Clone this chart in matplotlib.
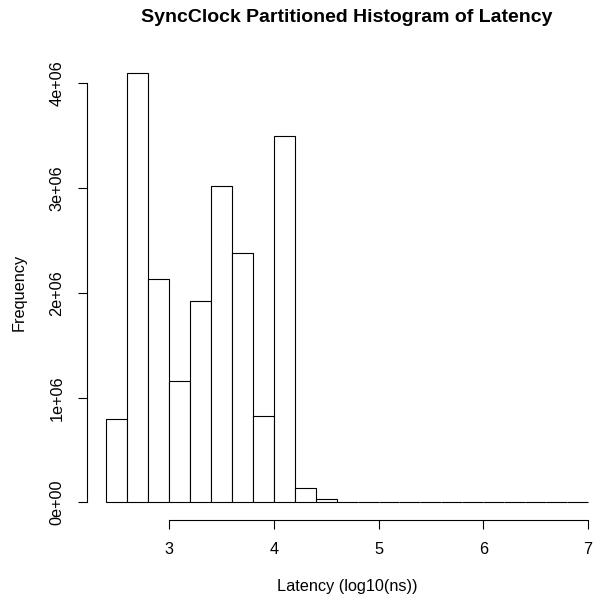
import numpy as np
import matplotlib.pyplot as plt

plt.rcParams['font.family'] = ['Liberation Sans', 'DejaVu Sans']

# histogram bins (log10 ns) and counts
bin_edges = np.round(np.arange(2.4, 7.0 + 1e-9, 0.2), 1)
counts = [800000, 4100000, 2130000, 1160000, 1920000, 3020000, 2380000,
          830000, 3500000, 140000, 30000, 6000, 1500, 500, 200, 100,
          50, 20, 10, 5, 2, 1, 1]
y_ticks = [0, 1e6, 2e6, 3e6, 4e6]
y_tick_labels = ['0e+00', '1e+06', '2e+06', '3e+06', '4e+06']
x_ticks = [3, 4, 5, 6, 7]

W, H = 595, 602
fig = plt.figure(figsize=(W / 100, H / 100), dpi=100)

# plot region in pixels (R-style)
left_px, bottom_px, top_px = 86.7, 520, 55
ax = fig.add_axes([left_px / W, (H - bottom_px) / H, (W - left_px) / W, (bottom_px - top_px) / H])

ax.bar(bin_edges[:-1], counts, width=0.2, align='edge', color='white',
       edgecolor='black', linewidth=0.8)

ax.set_xlim(2.214, 7.067)
ax.set_ylim(-0.167e6, 4.27e6)

for s in ['top', 'right']:
    ax.spines[s].set_visible(False)
ax.spines['left'].set_bounds(0, 4e6)
ax.spines['bottom'].set_bounds(3, 7)
for s in ['left', 'bottom']:
    ax.spines[s].set_linewidth(0.8)

ax.set_xticks(x_ticks)
ax.set_xticklabels([str(t) for t in x_ticks])
ax.set_yticks(y_ticks)
ax.set_yticklabels(y_tick_labels, rotation=90, va='center')
ax.tick_params(direction='out', length=6.5, width=0.8, labelsize=11.7, pad=9.4)

fig.text(347 / W, 1 - 18 / H, 'SyncClock Partitioned Histogram of Latency',
         ha='center', va='center', fontsize=14, fontweight='bold')
fig.text(347 / W, 1 - 586 / H, 'Latency (log10(ns))', ha='center', va='center', fontsize=11.7)
fig.text(19 / W, 1 - 292 / H, 'Frequency', ha='center', va='center', rotation=90, fontsize=11.7)

fig.savefig('out.png', dpi=100)
